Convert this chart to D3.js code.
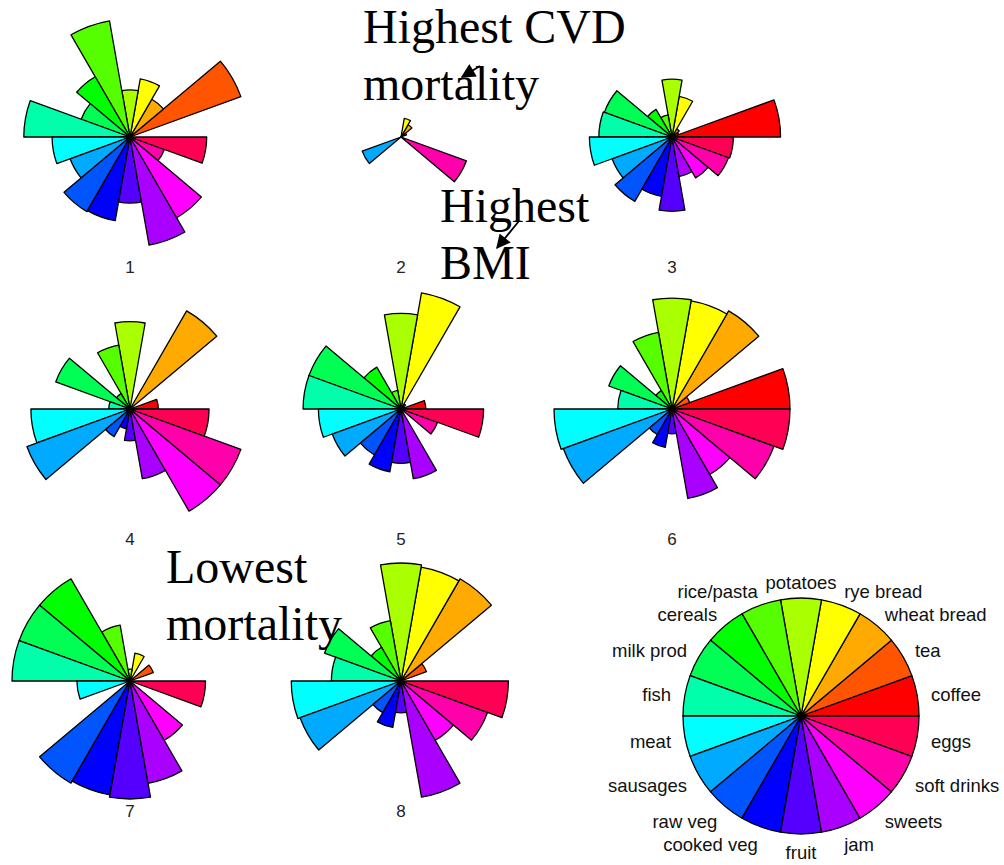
<!DOCTYPE html>
<html>
<head>
<meta charset="utf-8">
<script src="https://cdn.jsdelivr.net/npm/d3@7"></script>
<style>
  body { margin: 0; background: #fff; }
</style>
</head>
<body>
<div id="chart"></div>
<script>
// food groups, counter-clockwise from east
const foods = ['coffee', 'tea', 'wheat bread', 'rye bread', 'potatoes', 'rice/pasta', 'cereals',
    'milk prod', 'fish', 'meat', 'sausages', 'raw veg', 'cooked veg', 'fruit', 'jam', 'sweets',
    'soft drinks', 'eggs'];

// scaled consumption (0..1) per cluster, same order as foods
const star1 = [0.02, 1.00, 0.37, 0.50, 0.40, 1.00, 0.59, 0.44, 0.90, 0.66, 0.54, 0.73, 0.72, 0.56, 0.93, 0.79, 0.31, 0.65];
const star2 = [0.00, 0.05, 0.12, 0.16, 0.00, 0.00, 0.00, 0.00, 0.00, 0.00, 0.35, 0.00, 0.00, 0.00, 0.00, 0.00, 0.59, 0.00];
const star3 = [0.92, 0.06, 0.08, 0.35, 0.49, 0.19, 0.27, 0.61, 0.62, 0.70, 0.54, 0.63, 0.51, 0.63, 0.34, 0.40, 0.51, 0.52];
const star4 = [0.24, 0.00, 0.96, 0.00, 0.74, 0.55, 0.15, 0.67, 0.18, 0.84, 0.93, 0.27, 0.17, 0.27, 0.60, 1.00, 1.00, 0.67];
const star5 = [0.21, 0.03, 0.05, 1.00, 0.81, 0.16, 0.41, 0.83, 0.83, 0.70, 0.62, 0.45, 0.54, 0.46, 0.60, 0.00, 0.33, 0.70];
const star6 = [1.00, 0.16, 0.96, 0.93, 0.94, 0.66, 0.18, 0.57, 0.46, 1.00, 0.98, 0.25, 0.33, 0.21, 0.77, 0.64, 0.92, 1.00];
const star7 = [0.00, 0.21, 0.00, 0.24, 0.10, 0.48, 1.00, 1.00, 1.00, 0.45, 0.00, 1.00, 0.98, 1.00, 0.88, 0.58, 0.00, 0.64];
const star8 = [0.00, 0.23, 1.00, 0.98, 1.00, 0.52, 0.33, 0.69, 0.59, 0.93, 0.91, 0.31, 0.40, 0.27, 1.00, 0.58, 0.78, 0.91];

const stars = [star1, star2, star3, star4, star5, star6, star7, star8];
const starLabels = ['1', '2', '3', '4', '5', '6', '7', '8'];

const width = 1004, height = 865;
const cols = [130, 401, 672], rows = [137, 409, 681];
const key = {x: 801, y: 716};

const svg = d3.select('#chart').append('svg')
    .attr('width', width)
    .attr('height', height);

const r = d3.scaleLinear().domain([0, 1]).range([0, 118]);
const seg = 2 * Math.PI / foods.length;
const color = i => d3.hsl(i * 360 / foods.length, 1, 0.5).formatHex();

const arc = d3.arc()
    .innerRadius(0)
    .outerRadius(d => r(d.value))
    .startAngle(d => Math.PI / 2 - (d.i + 1) * seg)
    .endAngle(d => Math.PI / 2 - d.i * seg);

function drawStar(g, values) {
    g.selectAll('path')
        .data(values.map((v, i) => ({value: v, i: i})))
        .enter()
        .append('path')
        .attr('d', arc)
        .attr('fill', d => color(d.i))
        .attr('stroke', '#000')
        .attr('stroke-width', 1.3)
        .attr('stroke-linejoin', 'round');
}

stars.forEach((values, k) => {
    const cx = cols[k % 3], cy = rows[Math.floor(k / 3)];
    const g = svg.append('g').attr('transform', `translate(${cx},${cy})`);
    drawStar(g, values);
    svg.append('text')
        .attr('x', cx)
        .attr('y', cy + 130)
        .attr('dy', '0.35em')
        .attr('text-anchor', 'middle')
        .attr('font-family', 'Liberation Sans, Arial, sans-serif')
        .attr('font-size', 17)
        .attr('fill', '#222')
        .text(starLabels[k]);
});

// key
const keyG = svg.append('g').attr('transform', `translate(${key.x},${key.y})`);
drawStar(keyG, foods.map(() => 1));

foods.forEach((f, i) => {
    const a = (i + 0.5) * seg;
    const c = Math.cos(a), s = Math.sin(a);
    let anchor = 'middle', off = 0;
    if (c > 0.1) { anchor = 'start'; off = -3; }
    else if (c < -0.1) { anchor = 'end'; off = 3; }
    svg.append('text')
        .attr('x', key.x + 135 * c + off)
        .attr('y', key.y - 135 * s + 2)
        .attr('dy', '0.35em')
        .attr('text-anchor', anchor)
        .attr('font-family', 'Liberation Sans, Arial, sans-serif')
        .attr('font-size', 18.5)
        .attr('fill', '#111')
        .text(f);
});

// annotations
const notes = [
    {lines: ['Highest CVD', 'mortality'], x: 363, y: 43},
    {lines: ['Highest', 'BMI'], x: 440, y: 222},
    {lines: ['Lowest', 'mortality'], x: 166, y: 583}
];
notes.forEach(n => {
    const t = svg.append('text')
        .attr('font-family', 'Liberation Serif, Times New Roman, serif')
        .attr('font-size', 48)
        .attr('fill', '#000');
    n.lines.forEach((l, j) => {
        t.append('tspan').attr('x', n.x).attr('y', n.y + j * 57).text(l);
    });
});

svg.append('defs').append('marker')
    .attr('id', 'head')
    .attr('viewBox', '0 0 10 10')
    .attr('refX', 9).attr('refY', 5)
    .attr('markerWidth', 9).attr('markerHeight', 8)
    .attr('markerUnits', 'strokeWidth')
    .attr('orient', 'auto')
    .append('path')
    .attr('d', 'M0,0 L10,5 L0,10 z')
    .attr('fill', '#000');

const arrows = [
    {x1: 480, y1: 66, x2: 462, y2: 77},
    {x1: 519, y1: 221, x2: 497, y2: 248}
];
svg.selectAll('.arrow')
    .data(arrows)
    .enter()
    .append('line')
    .attr('class', 'arrow')
    .attr('x1', d => d.x1).attr('y1', d => d.y1)
    .attr('x2', d => d.x2).attr('y2', d => d.y2)
    .attr('stroke', '#000')
    .attr('stroke-width', 1.8)
    .attr('marker-end', 'url(#head)');
</script>
</body>
</html>
